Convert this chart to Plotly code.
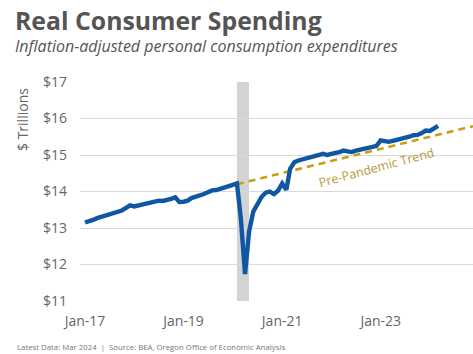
import pandas as pd
import plotly.graph_objects as go

# Real personal consumption expenditures, $ trillions (chained dollars), monthly Jan 2017 - Mar 2024
start_month = "2017-01-01"
pce_values = [
    13.15, 13.18, 13.22, 13.27, 13.30, 13.33, 13.38, 13.41, 13.45, 13.48, 13.55, 13.62,  # 2017
    13.59, 13.62, 13.64, 13.66, 13.69, 13.72, 13.75, 13.74, 13.76, 13.80, 13.84, 13.71,  # 2018
    13.72, 13.75, 13.82, 13.85, 13.89, 13.93, 13.98, 14.03, 14.04, 14.07, 14.09, 14.13,  # 2019
    14.18, 14.22, 13.25, 11.74, 12.90, 13.45, 13.68, 13.85, 13.97, 14.00, 13.93, 14.02,  # 2020
    14.22, 14.05, 14.62, 14.80, 14.85, 14.88, 14.90, 14.92, 14.97, 15.00, 15.03, 15.00,  # 2021
    15.04, 15.06, 15.08, 15.12, 15.10, 15.08, 15.12, 15.14, 15.17, 15.20, 15.22, 15.25,  # 2022
    15.40, 15.38, 15.36, 15.39, 15.41, 15.44, 15.47, 15.50, 15.54, 15.55, 15.60, 15.67,  # 2023
    15.66, 15.72, 15.80,                                                                  # 2024
]
pce_dates = pd.date_range(start_month, periods=len(pce_values), freq="MS")

# Pre-pandemic trend extended from the Feb 2020 level
trend_dates = ["2020-02-01", "2024-11-15"]
trend_values = [14.20, 15.79]

# Recession shading
recession_start = "2020-02-01"
recession_end = "2020-04-30"

x_tick_vals = ["2017-01-01", "2019-01-01", "2021-01-01", "2023-01-01"]
x_tick_text = ["Jan-17", "Jan-19", "Jan-21", "Jan-23"]
y_tick_vals = [11, 12, 13, 14, 15, 16, 17]
y_tick_text = ["$11", "$12", "$13", "$14", "$15", "$16", "$17"]

FONT = "Open Sans"
GREY = "#666666"
BLUE = "#0F56A3"
GOLD = "#C4A014"

fig = go.Figure()

fig.add_trace(go.Scatter(
    x=trend_dates, y=trend_values, mode="lines",
    line=dict(color=GOLD, width=2.6, dash="7px,5px"),
    hoverinfo="skip", showlegend=False,
))
fig.add_trace(go.Scatter(
    x=pce_dates, y=pce_values, mode="lines",
    line=dict(color=BLUE, width=4.4),
    showlegend=False,
))

fig.add_shape(
    type="rect", xref="x", yref="paper",
    x0=recession_start, x1=recession_end, y0=0, y1=1,
    fillcolor="#D3D3D3", line_width=0, layer="below",
)

L, T, W, H = 80, 82, 393, 219


def px(x):
    return (x - L) / W


def py(y):
    return (T + H - y) / H


annotations = [
    dict(text="<b>Real Consumer Spending</b>", x=px(13), y=py(20),
         font=dict(family=FONT, size=24.8, color="#555555")),
    dict(text="<i>Inflation-adjusted personal consumption expenditures</i>", x=px(13), y=py(46),
         font=dict(family=FONT, size=16, color="#555555")),
    dict(text="Latest Data: Mar 2024  |  Source: BEA, Oregon Office of Economic Analysis",
         x=px(15), y=py(347), font=dict(family=FONT, size=7.8, color="#777777")),
]
for a in annotations:
    a.update(xref="paper", yref="paper", xanchor="left", yanchor="middle", showarrow=False)

annotations.append(dict(
    text="$ Trillions", xref="paper", yref="paper", x=px(22), y=py(120),
    textangle=-90, showarrow=False, xanchor="center", yanchor="middle",
    font=dict(family=FONT, size=14, color=GREY),
))
annotations.append(dict(
    text="Pre-Pandemic Trend", xref="x", yref="y", x="2022-12-01", y=14.66,
    textangle=-15, showarrow=False, xanchor="center", yanchor="middle",
    font=dict(family=FONT, size=12.5, color="#B8993A"),
))

fig.update_layout(
    width=473, height=354,
    margin=dict(l=L, r=473 - L - W, t=T, b=354 - T - H),
    paper_bgcolor="white", plot_bgcolor="white",
    font=dict(family=FONT, color=GREY),
    annotations=annotations,
    xaxis=dict(
        range=["2016-11-25", "2024-11-15"], showgrid=False, zeroline=False,
        showline=False, tickvals=x_tick_vals, ticktext=x_tick_text,
        tickfont=dict(family=FONT, size=14, color=GREY), ticks="",
        ticklabelstandoff=10,
    ),
    yaxis=dict(
        range=[11, 17], tickvals=y_tick_vals, ticktext=y_tick_text,
        showgrid=True, gridcolor="#D9D9D9", gridwidth=1.2, zeroline=False,
        showline=False, ticks="", ticklabelstandoff=12,
        tickfont=dict(family=FONT, size=14, color=GREY),
    ),
)

fig.write_html("out.html")
